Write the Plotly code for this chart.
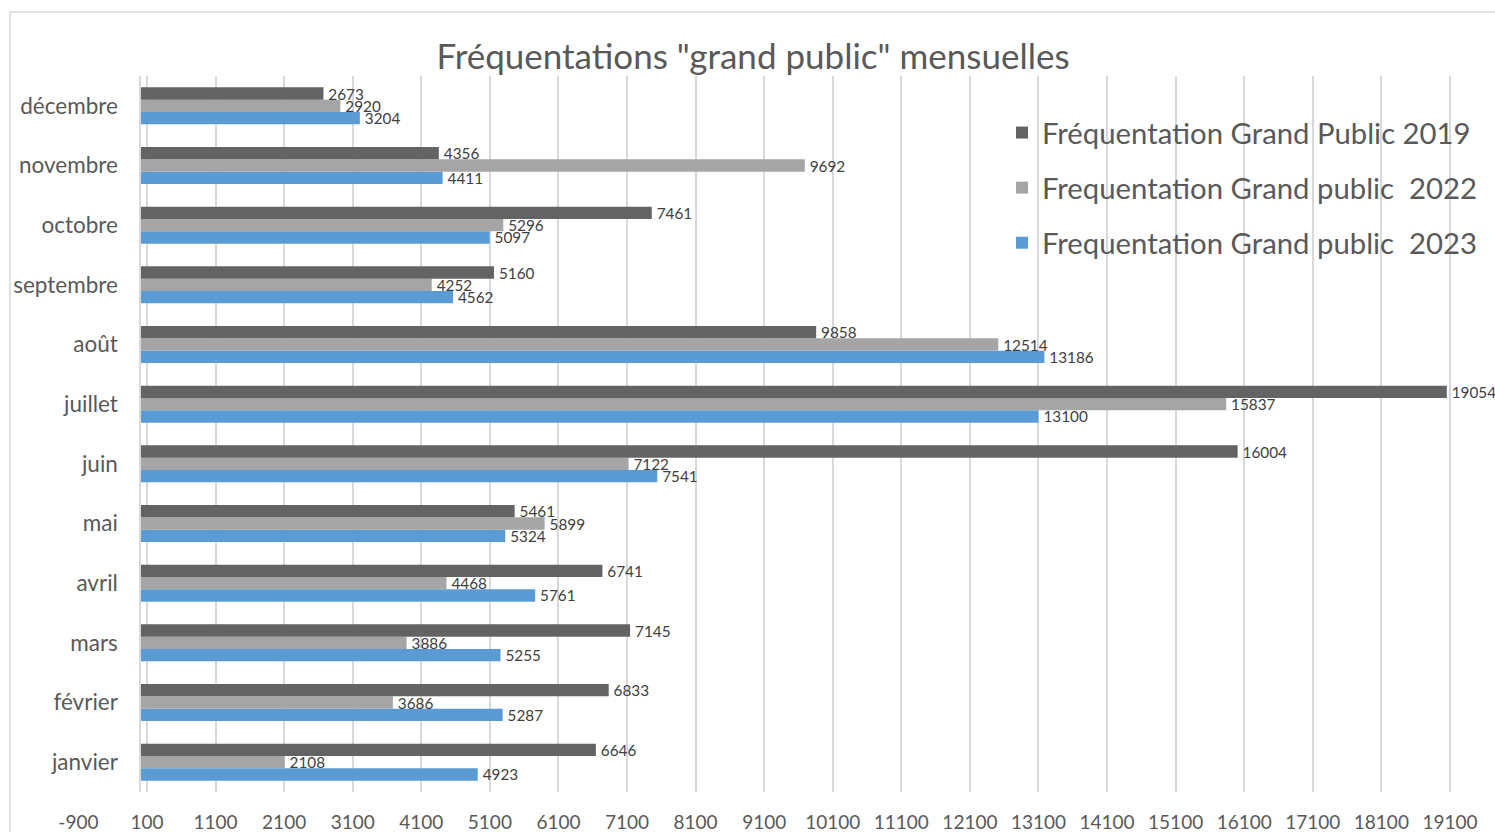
import plotly.graph_objects as go

months = ["janvier", "février", "mars", "avril", "mai", "juin", "juillet",
          "août", "septembre", "octobre", "novembre", "décembre"]
v2019 = [6646, 6833, 7145, 6741, 5461, 16004, 19054, 9858, 5160, 7461, 4356, 2673]
v2022 = [2108, 3686, 3886, 4468, 5899, 7122, 15837, 12514, 4252, 5296, 9692, 2920]
v2023 = [4923, 5287, 5255, 5761, 5324, 7541, 13100, 13186, 4562, 5097, 4411, 3204]
x_ticks = list(range(-900, 19101, 1000))

names = ["Fréquentation Grand Public 2019",
         "Frequentation Grand public  2022",
         "Frequentation Grand public  2023"]
colors = ["#636363", "#A5A5A5", "#5B9BD5"]
series = [v2019, v2022, v2023]

W, H = 1495, 832
L, R, T, B = 78, 7, 76, 40
FONT = "Lato"

fig = go.Figure()
# plotly stacks horizontal group members bottom-up, so add 2023 first
for i in [2, 1, 0]:
    fig.add_trace(go.Bar(
        y=months, x=series[i], orientation="h", name=names[i],
        marker=dict(color=colors[i], line=dict(width=0)),
        text=[str(v) for v in series[i]], textposition="outside",
        texttemplate="\u2009%{text}",
        textfont=dict(family=FONT, size=15.3, color="#404040"),
        constraintext="none", cliponaxis=False,
        legendgroup=str(i), legendrank=i + 1,
    ))

plot_w = W - L - R
plot_h = H - T - B
zero_pos = (140.13 - L) / plot_w

fig.update_layout(
    width=W, height=H,
    margin=dict(l=L, r=R, t=T, b=B, autoexpand=False),
    paper_bgcolor="white", plot_bgcolor="white",
    barmode="group", bargap=0.38, bargroupgap=0,
    title=dict(text='Fréquentations "grand public" mensuelles',
               x=753 / W, xref="container", xanchor="center",
               y=1 - 57 / H, yref="container", yanchor="middle",
               font=dict(family=FONT, size=35, color="#595959")),
    font=dict(family=FONT, color="#595959"),
    showlegend=True,
    legend=dict(x=(1002 - L) / plot_w, xanchor="left",
                y=1 - (107 - T) / plot_h, yanchor="top",
                traceorder="grouped", tracegroupgap=14,
                font=dict(family=FONT, size=29.3, color="#595959"),
                bgcolor="rgba(255,255,255,0)"),
    xaxis=dict(range=[-906, 19655], tickmode="array", tickvals=x_ticks,
               ticktext=[str(t) for t in x_ticks],
               showgrid=True, gridcolor="#D9D9D9", gridwidth=1.5,
               zeroline=False, showline=False, ticks="",
               ticklabelstandoff=17, automargin=False,
               tickfont=dict(family=FONT, size=19, color="#595959"),
               fixedrange=True),
    yaxis=dict(categoryorder="array", categoryarray=months,
               anchor="free", position=zero_pos, automargin=False,
               showline=True, linecolor="#D9D9D9", linewidth=1.5,
               showgrid=False, zeroline=False, ticks="",
               ticklabelstandoff=17,
               tickfont=dict(family=FONT, size=22.5, color="#595959"),
               range=[-0.5, 11.5]),
)

# chart border (Excel chart area outline)
fig.add_shape(type="rect", xref="paper", yref="paper",
              x0=(10 - L) / plot_w, x1=(W + 5 - L) / plot_w,
              y0=-(H + 5 - (H - B)) / plot_h, y1=1 + (T - 12) / plot_h,
              line=dict(color="#D9D9D9", width=1.5), fillcolor="rgba(0,0,0,0)",
              layer="below")

fig.write_html("out.html", config={"displayModeBar": False},
               post_script="document.body.style.margin='0';document.body.style.overflow='hidden';")
